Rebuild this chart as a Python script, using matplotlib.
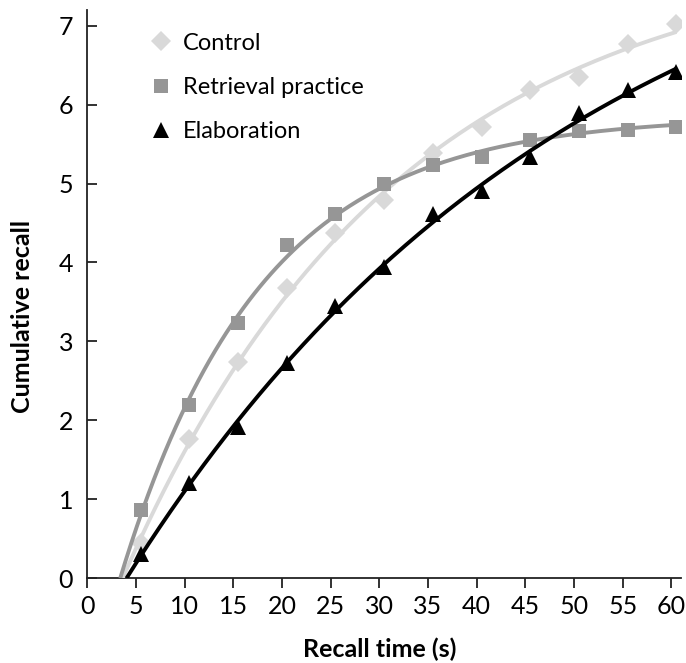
import numpy as np
import matplotlib.pyplot as plt
from matplotlib.lines import Line2D

plt.rcParams['font.family'] = ['Lato', 'DejaVu Sans']

# recall bins (s) and cumulative items recalled per condition
recall_time = [5.5, 10.5, 15.5, 20.5, 25.5, 30.5, 35.5, 40.5, 45.5, 50.5, 55.5, 60.5]
control = [0.44, 1.76, 2.74, 3.68, 4.37, 4.79, 5.39, 5.72, 6.18, 6.35, 6.77, 7.02]
retrieval = [0.86, 2.19, 3.23, 4.22, 4.62, 4.99, 5.23, 5.34, 5.55, 5.67, 5.68, 5.72]
elaboration = [0.30, 1.21, 1.92, 2.72, 3.45, 3.94, 4.62, 4.90, 5.34, 5.89, 6.18, 6.41]

x_ticks = list(range(0, 61, 5))
y_ticks = list(range(0, 8))


def fit_exp(t, y):
    # least squares fit of y = a * (1 - exp(-b * (t - t0)))
    t = np.asarray(t)
    y = np.asarray(y)
    best = None
    for b in np.linspace(0.002, 0.2, 400):
        for t0 in np.linspace(0.0, 5.0, 101):
            f = 1 - np.exp(-b * (t - t0))
            a = f @ y / (f @ f)
            err = np.sum((a * f - y) ** 2)
            if best is None or err < best[0]:
                best = (err, a, b, t0)
    _, a, b, t0 = best
    tt = np.linspace(t0, t[-1], 200)
    return tt, a * (1 - np.exp(-b * (tt - t0)))


fig = plt.figure(figsize=(6.86, 6.63), dpi=100)
ax = fig.add_axes([0.127, 0.128, 0.866, 0.857])

series = [
    ('Control', control, '#d9d9d9', 'D', 10.5),
    ('Retrieval practice', retrieval, '#969696', 's', 10.5),
    ('Elaboration', elaboration, '#000000', '^', 11.5),
]

handles = []
for i, (name, vals, col, mk, ms) in enumerate(series):
    ax.plot(recall_time, vals, linestyle='none', marker=mk, markersize=ms,
            color=col, markeredgewidth=0, zorder=3 + 2 * i)
    tt, yy = fit_exp(recall_time, vals)
    ax.plot(tt, yy, color=col, lw=2.8, zorder=4 + 2 * i, solid_capstyle='butt')
    handles.append(Line2D([], [], linestyle='none', marker=mk, markersize=ms,
                          color=col, markeredgewidth=0, label=name))

ax.set_xlim(0, 61)
ax.set_ylim(0, 7.2)
ax.set_xticks(x_ticks)
ax.set_yticks(y_ticks)

for side in ['top', 'right']:
    ax.spines[side].set_visible(False)
for side in ['left', 'bottom']:
    ax.spines[side].set_linewidth(1.3)
    ax.spines[side].set_color('#222222')

ax.tick_params(axis='x', direction='out', length=7, width=1.3, color='#222222',
               labelsize=18, pad=5)
ax.tick_params(axis='y', direction='in', length=7, width=1.3, color='#222222',
               labelsize=18, pad=10)

ax.set_xlabel('Recall time (s)', fontsize=18, fontweight='bold')
ax.set_ylabel('Cumulative recall', fontsize=18, fontweight='bold')
ax.xaxis.set_label_coords(0.493, -0.105)
ax.yaxis.set_label_coords(-0.09, 0.46)

ax.legend(handles=handles, loc='upper left', bbox_to_anchor=(0.08, 0.985),
          frameon=False, fontsize=17, labelspacing=0.98, handlelength=1.0,
          handletextpad=0.45, borderaxespad=0.2)

fig.savefig('out.png', dpi=100)
